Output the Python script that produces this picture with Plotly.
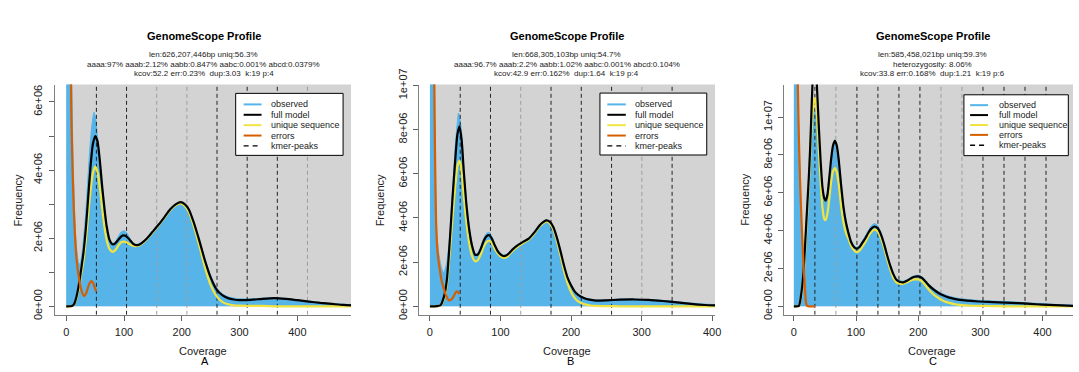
import plotly.graph_objects as go

W, H = 1079, 372

# ---------------- data (coverage, frequency in millions) ----------------
# Panel A
A_cov_obs = [0, 2, 4, 6, 8, 10, 12, 14, 16, 18, 20, 22, 24, 26, 28, 30, 34, 38, 42, 45, 48, 51, 54, 58, 62, 66, 70, 75, 80, 85, 90, 95, 100, 105, 110, 115, 120, 130, 140, 150, 160, 170, 180, 190, 198, 205, 212, 220, 230, 240, 250, 260, 270, 280, 290, 300, 320, 340, 360, 380, 400, 420, 440, 460, 480, 495]
A_obs = [60, 40, 25, 14, 8.5, 6.0, 4.2, 3.0, 2.2, 1.7, 1.4, 1.25, 1.25, 1.4, 1.65, 2.0, 2.8, 3.9, 4.9, 5.4, 5.7, 5.5, 5.0, 4.4, 3.6, 2.9, 2.35, 1.95, 1.85, 1.9, 2.05, 2.18, 2.22, 2.15, 2.0, 1.88, 1.82, 1.87, 2.02, 2.22, 2.42, 2.63, 2.86, 3.01, 3.07, 3.01, 2.86, 2.52, 1.98, 1.4, 0.9, 0.55, 0.37, 0.28, 0.24, 0.22, 0.22, 0.24, 0.25, 0.23, 0.19, 0.15, 0.11, 0.08, 0.06, 0.05]
A_cov_mod = [0, 10, 14, 18, 22, 26, 30, 34, 38, 42, 46, 50, 54, 58, 62, 66, 70, 75, 80, 85, 90, 95, 100, 105, 110, 115, 120, 125, 130, 140, 150, 160, 170, 180, 190, 198, 205, 212, 220, 230, 240, 250, 260, 270, 280, 290, 300, 320, 340, 360, 380, 400, 420, 440, 460, 480, 495]
A_full = [0, 0.01, 0.08, 0.3, 0.65, 1.1, 1.6, 2.3, 3.2, 4.1, 4.75, 5.0, 4.85, 4.3, 3.55, 2.9, 2.35, 1.95, 1.82, 1.85, 1.95, 2.05, 2.08, 2.04, 1.95, 1.85, 1.8, 1.8, 1.85, 2.0, 2.2, 2.4, 2.62, 2.85, 3.0, 3.06, 3.0, 2.85, 2.5, 1.95, 1.35, 0.85, 0.5, 0.33, 0.24, 0.2, 0.18, 0.19, 0.22, 0.24, 0.22, 0.18, 0.14, 0.1, 0.07, 0.04, 0.03]
A_unique = [0, 0.01, 0.07, 0.25, 0.55, 0.95, 1.35, 1.95, 2.7, 3.4, 3.9, 4.1, 3.95, 3.5, 2.9, 2.35, 1.95, 1.68, 1.6, 1.65, 1.78, 1.88, 1.9, 1.87, 1.82, 1.78, 1.77, 1.78, 1.83, 1.98, 2.18, 2.38, 2.6, 2.82, 2.97, 3.02, 2.95, 2.78, 2.4, 1.8, 1.15, 0.62, 0.3, 0.13, 0.06, 0.03, 0.02, 0.01, 0.01, 0.0, 0.0, 0.0, 0.0, 0.0, 0.0, 0.0, 0.0]
A_cov_err = [0, 3, 6, 9, 11, 13, 15, 17, 19, 21, 23, 25, 28, 31, 34, 37, 40, 43, 46, 49, 52]
A_err = [60, 25, 10, 5.5, 4.0, 2.9, 2.1, 1.55, 1.2, 0.95, 0.72, 0.55, 0.38, 0.3, 0.36, 0.52, 0.66, 0.74, 0.7, 0.56, 0.43]
A_peaks_dark = [52.2, 104.4, 261.0, 313.2, 365.4]
A_peaks_light = [156.6, 208.8, 417.6]

# Panel B
B_cov_obs = [0, 2, 4, 5, 6, 7, 8, 9, 10.5, 12, 14, 16, 18, 20, 22, 24, 28, 32, 36, 39, 40.5, 42, 45, 48, 52, 56, 60, 64, 68, 72, 76, 80, 84, 88, 92, 96, 100, 104, 108, 112, 118, 125, 132, 140, 148, 155, 160, 165, 170, 175, 180, 185, 190, 195, 200, 205, 210, 218, 226, 235, 250, 270, 290, 310, 330, 350, 370, 390, 405]
B_obs = [60, 40, 25, 18, 12.5, 8.5, 5.5, 4.0, 3.0, 2.5, 2.1, 1.8, 1.6, 1.5, 1.75, 2.0, 3.2, 5.2, 7.3, 8.4, 8.75, 8.6, 7.8, 6.3, 4.7, 3.55, 2.8, 2.4, 2.42, 2.7, 3.05, 3.3, 3.35, 3.15, 2.82, 2.56, 2.4, 2.32, 2.33, 2.43, 2.63, 2.8, 2.95, 3.1, 3.38, 3.68, 3.83, 3.92, 3.85, 3.62, 3.14, 2.54, 1.9, 1.35, 0.99, 0.72, 0.56, 0.41, 0.33, 0.29, 0.3, 0.33, 0.33, 0.31, 0.27, 0.21, 0.15, 0.1, 0.08]
B_cov_mod = [0, 10, 15, 20, 24, 28, 32, 36, 39, 42, 45, 48, 52, 56, 60, 64, 68, 72, 76, 80, 84, 88, 92, 96, 100, 104, 108, 112, 118, 125, 132, 140, 148, 155, 160, 165, 170, 175, 180, 185, 190, 195, 200, 205, 210, 218, 226, 235, 250, 270, 290, 310, 330, 350, 370, 390, 405]
B_full = [0, 0.01, 0.05, 0.45, 1.2, 2.9, 4.9, 6.7, 7.8, 8.15, 7.5, 6.1, 4.5, 3.4, 2.7, 2.33, 2.35, 2.6, 2.95, 3.17, 3.22, 3.05, 2.75, 2.5, 2.35, 2.28, 2.3, 2.4, 2.6, 2.78, 2.92, 3.07, 3.35, 3.65, 3.8, 3.89, 3.82, 3.58, 3.1, 2.5, 1.85, 1.3, 0.95, 0.68, 0.52, 0.38, 0.3, 0.26, 0.27, 0.3, 0.31, 0.29, 0.24, 0.18, 0.11, 0.06, 0.04]
B_unique = [0, 0.01, 0.04, 0.35, 1.0, 2.4, 4.0, 5.5, 6.35, 6.6, 6.1, 5.0, 3.7, 2.8, 2.25, 2.04, 2.1, 2.35, 2.68, 2.9, 2.97, 2.85, 2.6, 2.4, 2.26, 2.2, 2.22, 2.33, 2.53, 2.72, 2.86, 3.02, 3.3, 3.6, 3.75, 3.84, 3.75, 3.48, 2.95, 2.3, 1.6, 1.05, 0.65, 0.38, 0.22, 0.1, 0.05, 0.02, 0.01, 0.0, 0.0, 0.0, 0.0, 0.0, 0.0, 0.0, 0.0]
B_cov_err = [0, 3, 5, 6.2, 7, 8, 9, 10.5, 12, 13.5, 16, 18, 20, 22, 24.5, 27, 30, 33, 36, 38, 40, 41.5]
B_err = [60, 35, 18, 10, 7.5, 5.0, 3.5, 2.6, 2.1, 1.75, 1.25, 0.98, 0.76, 0.55, 0.38, 0.27, 0.3, 0.42, 0.6, 0.68, 0.64, 0.55]
B_peaks_dark = [42.9, 85.8, 171.6, 214.5, 257.4, 343.2]
B_peaks_light = [128.7, 300.3]

# Panel C
C_cov_obs = [0, 2, 4, 5, 6, 7, 8, 10, 12, 14, 15, 16, 18, 20, 22, 24, 27, 30, 33, 36, 39, 42, 45, 48, 51, 54, 57, 60, 63, 66, 69, 72, 76, 80, 84, 88, 92, 97, 101, 106, 110, 115, 120, 125, 130, 135, 140, 145, 150, 155, 160, 165, 170, 176, 182, 188, 194, 200, 206, 212, 218, 225, 232, 240, 250, 260, 275, 290, 305, 320, 340, 360, 380, 400, 420, 450]
C_obs = [80, 50, 30, 18, 12.5, 10.5, 9.0, 7.0, 4.6, 2.8, 2.3, 2.4, 3.3, 4.6, 5.7, 6.7, 8.3, 9.6, 10.4, 10.0, 8.9, 7.4, 6.2, 5.7, 5.6, 5.95, 6.85, 7.85, 8.55, 8.8, 8.55, 7.85, 6.5, 5.3, 4.5, 3.95, 3.5, 3.2, 3.12, 3.22, 3.45, 3.72, 4.02, 4.27, 4.38, 4.25, 3.92, 3.4, 2.78, 2.22, 1.77, 1.46, 1.36, 1.33, 1.41, 1.53, 1.62, 1.64, 1.56, 1.37, 1.15, 0.95, 0.79, 0.65, 0.53, 0.45, 0.38, 0.33, 0.3, 0.28, 0.25, 0.22, 0.18, 0.14, 0.1, 0.06]
C_cov_mod = [0, 8, 12, 15, 18, 21, 24, 26, 28, 30, 32, 34, 36, 38, 40, 43, 46, 49, 51, 54, 57, 60, 63, 66, 69, 72, 76, 80, 84, 88, 92, 97, 101, 106, 110, 115, 120, 125, 130, 135, 140, 145, 150, 155, 160, 165, 170, 176, 182, 188, 194, 200, 206, 212, 218, 225, 232, 240, 250, 260, 275, 290, 305, 320, 340, 360, 380, 400, 420, 450]
C_full = [0, 0.02, 0.7, 1.6, 3.2, 5.0, 6.8, 8.2, 10.0, 11.8, 12.8, 13.0, 12.3, 11.0, 9.6, 7.7, 6.3, 5.7, 5.58, 5.9, 6.8, 7.8, 8.5, 8.75, 8.5, 7.8, 6.4, 5.2, 4.4, 3.85, 3.4, 3.12, 3.05, 3.15, 3.35, 3.6, 3.9, 4.12, 4.22, 4.12, 3.8, 3.3, 2.7, 2.15, 1.7, 1.4, 1.3, 1.27, 1.35, 1.47, 1.56, 1.58, 1.5, 1.3, 1.08, 0.88, 0.72, 0.58, 0.46, 0.38, 0.31, 0.27, 0.24, 0.22, 0.2, 0.17, 0.13, 0.09, 0.06, 0.02]
C_unique = [0, 0.02, 0.6, 1.4, 2.9, 4.6, 6.4, 7.7, 9.1, 10.2, 10.8, 11.0, 10.6, 9.6, 8.4, 6.6, 5.2, 4.6, 4.55, 4.9, 5.7, 6.6, 7.15, 7.3, 7.1, 6.5, 5.3, 4.4, 3.85, 3.55, 3.2, 2.95, 2.86, 2.95, 3.15, 3.4, 3.72, 3.95, 4.06, 3.95, 3.6, 3.1, 2.5, 1.95, 1.5, 1.27, 1.2, 1.2, 1.27, 1.37, 1.42, 1.42, 1.33, 1.1, 0.85, 0.62, 0.45, 0.3, 0.18, 0.1, 0.05, 0.03, 0.02, 0.01, 0.0, 0.0, 0.0, 0.0, 0.0, 0.0]
C_cov_err = [0, 3, 5, 6.5, 8, 10, 12, 14, 16, 18, 19.5, 21, 24, 34]
C_err = [80, 35, 16, 11.5, 9.0, 6.6, 4.8, 3.2, 1.9, 0.85, 0.2, 0.03, 0.0, 0.0]
C_peaks_dark = [33.8, 101.4, 135.2, 169.0, 202.8, 304.2, 338.0, 371.8, 405.6]
C_peaks_light = [67.6, 236.6, 270.4]

y_ticks_A = [0, 1, 2, 3, 4, 5, 6]
y_text_A = ["0e+00", "", "2e+06", "", "4e+06", "", "6e+06"]
y_ticks_BC = [0, 2, 4, 6, 8, 10]
y_text_BC = ["0e+00", "2e+06", "4e+06", "6e+06", "8e+06", "1e+07"]
x_ticks = [0, 100, 200, 300, 400]

titles = ["GenomeScope Profile"] * 3
subtitles = [
    ["len:626,207,446bp uniq:56.3%",
     "aaaa:97% aaab:2.12% aabb:0.847% aabc:0.001% abcd:0.0379%",
     "kcov:52.2 err:0.23%  dup:3.03  k:19 p:4"],
    ["len:668,305,103bp uniq:54.7%",
     "aaaa:96.7% aaab:2.2% aabb:1.02% aabc:0.001% abcd:0.104%",
     "kcov:42.9 err:0.162%  dup:1.64  k:19 p:4"],
    ["len:585,458,021bp uniq:59.3%",
     "heterozygosity: 8.06%",
     "kcov:33.8 err:0.168%  dup:1.21  k:19 p:6"],
]
panel_letters = ["A", "B", "C"]
legend_labels = ["observed", "full model", "unique sequence", "errors", "kmer-peaks"]

# ---------------- styling / layout ----------------
COL_HIST = "#56B4E9"
COL_FULL = "black"
COL_UNIQUE = "#F0E442"
COL_ERR = "#D55E00"
COL_BG = "#D3D3D3"
FONT = "Liberation Sans, Arial, sans-serif"

def px_x(p):
    return p / W

def px_y(p):
    return 1 - p / H

panels = [
    dict(cov_obs=A_cov_obs, obs=A_obs, cov_mod=A_cov_mod, full=A_full, uniq=A_unique,
         cov_err=A_cov_err, err=A_err, dark=A_peaks_dark, light=A_peaks_light,
         xdom=(55, 353), xr=(-20, 493), yr=(-0.25, 6.51), yt=y_ticks_A, ytt=y_text_A,
         title_x=205, cov_x=204.5, freq_x=18.5, letter_x=206.5,
         leg=dict(box=(237, 82, 345, 147.7), line=(245, 263), text=270.5, ys=[93.7, 104.7, 115.7, 126.7, 137.7])),
    dict(cov_obs=B_cov_obs, obs=B_obs, cov_mod=B_cov_mod, full=B_full, uniq=B_unique,
         cov_err=B_cov_err, err=B_err, dark=B_peaks_dark, light=B_peaks_light,
         xdom=(421.7, 719), xr=(-15, 404), yr=(-0.385, 10.04), yt=y_ticks_BC, ytt=y_text_BC,
         title_x=570, cov_x=570.5, freq_x=382.5, letter_x=574,
         leg=dict(box=(603.3, 81.7, 710.7, 147.3), line=(610.7, 629.3), text=636.5, ys=[93.7, 104.7, 115.7, 126.7, 137.7])),
    dict(cov_obs=C_cov_obs, obs=C_obs, cov_mod=C_cov_mod, full=C_full, uniq=C_unique,
         cov_err=C_cov_err, err=C_err, dark=C_peaks_dark, light=C_peaks_light,
         xdom=(788.3, 1079), xr=(-16, 449), yr=(-0.45, 11.72), yt=y_ticks_BC, ytt=y_text_BC,
         title_x=938, cov_x=937, freq_x=749, letter_x=938,
         leg=dict(box=(969.3, 83.5, 1074.3, 148), line=(975.5, 993.5), text=1002.5, ys=[94.5, 105, 115.5, 126, 137])),
]

fig = go.Figure()
shapes = []
annotations = []
Y_TOP, Y_BOT = 72.7, 316.7

for i, p in enumerate(panels):
    sfx = "" if i == 0 else str(i + 1)
    xa, ya = "x" + sfx, "y" + sfx
    # background rectangle (starts at 0,0 as in GenomeScope)
    shapes.append(dict(type="rect", xref=xa, yref=ya, x0=0, y0=0, x1=10000, y1=10000,
                       fillcolor=COL_BG, line=dict(width=0), layer="below"))
    # observed histogram
    fig.add_trace(go.Scatter(x=p["cov_obs"], y=p["obs"], xaxis=xa, yaxis=ya, mode="lines",
                             line=dict(color=COL_HIST, width=1, shape="spline", smoothing=0.6),
                             fill="tozeroy", fillcolor=COL_HIST, showlegend=False, hoverinfo="skip"))
    # kmer peaks
    for vals, col in ((p["light"], "#9e9e9e"), (p["dark"], "#222222")):
        xs, ys = [], []
        for v in vals:
            xs += [v, v, None]
            ys += [p["yr"][0], p["yr"][1], None]
        fig.add_trace(go.Scatter(x=xs, y=ys, xaxis=xa, yaxis=ya, mode="lines",
                                 line=dict(color=col, width=1, dash="4px,3px"),
                                 showlegend=False, hoverinfo="skip"))
    fig.add_trace(go.Scatter(x=p["cov_mod"], y=p["uniq"], xaxis=xa, yaxis=ya, mode="lines",
                             line=dict(color=COL_UNIQUE, width=2.2, shape="spline", smoothing=0.6),
                             showlegend=False))
    fig.add_trace(go.Scatter(x=p["cov_mod"], y=p["full"], xaxis=xa, yaxis=ya, mode="lines",
                             line=dict(color=COL_FULL, width=2.2, shape="spline", smoothing=0.6),
                             showlegend=False))
    fig.add_trace(go.Scatter(x=p["cov_err"], y=p["err"], xaxis=xa, yaxis=ya, mode="lines",
                             line=dict(color=COL_ERR, width=2.2, shape="spline", smoothing=0.6),
                             showlegend=False))

    axis_common = dict(showgrid=False, zeroline=False, showline=True, linecolor="#808080", linewidth=1,
                       ticks="outside", ticklen=5, tickcolor="#606060", ticklabelstandoff=2,
                       tickfont=dict(family=FONT, size=11, color="#222"))
    fig.update_layout(**{
        ("xaxis" + sfx): dict(domain=[px_x(p["xdom"][0]), px_x(p["xdom"][1])], range=list(p["xr"]),
                              anchor=ya, tickvals=x_ticks, **axis_common),
        ("yaxis" + sfx): dict(domain=[px_y(Y_BOT), px_y(Y_TOP)], range=list(p["yr"]), anchor=xa,
                              tickvals=p["yt"], ticktext=p["ytt"], tickangle=-90, **axis_common),
    })

    # titles
    annotations.append(dict(text="<b>%s</b>" % titles[i], x=px_x(p["title_x"]), y=px_y(20.7),
                            xref="paper", yref="paper", showarrow=False, xanchor="center", yanchor="middle",
                            font=dict(family=FONT, size=11, color="black")))
    for j, line in enumerate(subtitles[i]):
        annotations.append(dict(text=line.replace("  ", "\u00a0\u00a0"), x=px_x(p["title_x"]),
                                y=px_y(40.7 + 10.3 * j), xref="paper", yref="paper", showarrow=False,
                                xanchor="center", yanchor="middle",
                                font=dict(family=FONT, size=8, color="#222")))
    annotations.append(dict(text="Coverage", x=px_x(p["cov_x"]), y=px_y(355), xref="paper", yref="paper",
                            showarrow=False, xanchor="center", yanchor="middle",
                            font=dict(family=FONT, size=11, color="#222")))
    annotations.append(dict(text="Frequency", x=px_x(p["freq_x"]), y=px_y(195), xref="paper", yref="paper",
                            showarrow=False, xanchor="center", yanchor="middle", textangle=-90,
                            font=dict(family=FONT, size=11, color="#222")))
    annotations.append(dict(text=panel_letters[i], x=px_x(p["letter_x"]), y=px_y(365.5), xref="paper",
                            yref="paper", showarrow=False, xanchor="center", yanchor="middle",
                            font=dict(family=FONT, size=11, color="black")))

    # legend box (drawn like R's legend)
    lg = p["leg"]
    bx0, by0, bx1, by1 = lg["box"]
    shapes.append(dict(type="rect", xref="paper", yref="paper", x0=px_x(bx0), x1=px_x(bx1),
                       y0=px_y(by1), y1=px_y(by0), fillcolor="white", line=dict(color="black", width=1),
                       layer="above"))
    leg_cols = [COL_HIST, COL_FULL, COL_UNIQUE, COL_ERR, "black"]
    for k, lab in enumerate(legend_labels):
        yy = lg["ys"][k]
        shapes.append(dict(type="line", xref="paper", yref="paper", x0=px_x(lg["line"][0]),
                           x1=px_x(lg["line"][1]), y0=px_y(yy), y1=px_y(yy),
                           line=dict(color=leg_cols[k], width=2 if k < 4 else 1.3,
                                     dash="solid" if k < 4 else "5px,4px"), layer="above"))
        annotations.append(dict(text=lab, x=px_x(lg["text"]), y=px_y(yy), xref="paper", yref="paper",
                                showarrow=False, xanchor="left", yanchor="middle",
                                font=dict(family=FONT, size=9, color="#222")))

fig.update_layout(width=W, height=H, margin=dict(l=0, r=0, t=0, b=0),
                  paper_bgcolor="white", plot_bgcolor="white", showlegend=False,
                  shapes=shapes, annotations=annotations)

fig.write_html("out.html")
